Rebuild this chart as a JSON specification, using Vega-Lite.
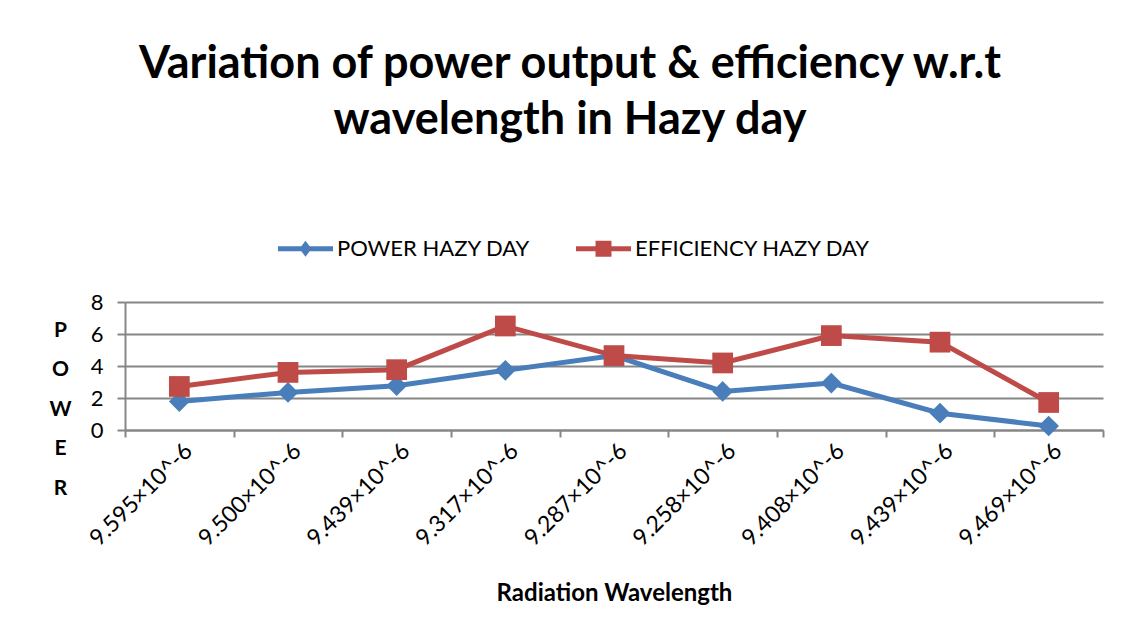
{
  "$schema": "https://vega.github.io/schema/vega-lite/v6.json",
  "width": 978,
  "height": 128,
  "autosize": {"type": "none"},
  "padding": {"left": 125, "top": 302, "right": 20, "bottom": 205},
  "background": "white",
  "config": {"view": {"stroke": null}, "font": "Lato"},
  "title": {
    "text": ["Variation of power output & efficiency w.r.t", "wavelength in Hazy  day"],
    "font": "Lato",
    "fontSize": 45,
    "fontWeight": "bold",
    "color": "black",
    "anchor": "middle",
    "dx": -44,
    "lineHeight": 56,
    "offset": 78
  },
  "data": {
    "values": [
      {"idx": 0, "series": "POWER HAZY DAY", "value": 1.78},
      {"idx": 1, "series": "POWER HAZY DAY", "value": 2.35},
      {"idx": 2, "series": "POWER HAZY DAY", "value": 2.77},
      {"idx": 3, "series": "POWER HAZY DAY", "value": 3.73},
      {"idx": 4, "series": "POWER HAZY DAY", "value": 4.65},
      {"idx": 5, "series": "POWER HAZY DAY", "value": 2.41},
      {"idx": 6, "series": "POWER HAZY DAY", "value": 2.93},
      {"idx": 7, "series": "POWER HAZY DAY", "value": 1.05},
      {"idx": 8, "series": "POWER HAZY DAY", "value": 0.25},
      {"idx": 0, "series": "EFFICIENCY HAZY DAY", "value": 2.72},
      {"idx": 1, "series": "EFFICIENCY HAZY DAY", "value": 3.6},
      {"idx": 2, "series": "EFFICIENCY HAZY DAY", "value": 3.77},
      {"idx": 3, "series": "EFFICIENCY HAZY DAY", "value": 6.5},
      {"idx": 4, "series": "EFFICIENCY HAZY DAY", "value": 4.65},
      {"idx": 5, "series": "EFFICIENCY HAZY DAY", "value": 4.19},
      {"idx": 6, "series": "EFFICIENCY HAZY DAY", "value": 5.9},
      {"idx": 7, "series": "EFFICIENCY HAZY DAY", "value": 5.49},
      {"idx": 8, "series": "EFFICIENCY HAZY DAY", "value": 1.72}
    ]
  },
  "encoding": {
    "x": {
      "field": "idx",
      "type": "ordinal",
      "scale": {"type": "band", "paddingInner": 0, "paddingOuter": 0},
      "axis": {
        "labelExpr": "['9.595×10^-6','9.500×10^-6','9.439×10^-6','9.317×10^-6','9.287×10^-6','9.258×10^-6','9.408×10^-6','9.439×10^-6','9.469×10^-6'][datum.value]",
        "labelAngle": -45,
        "labelAlign": "right",
        "labelBaseline": "middle",
        "labelFontSize": 23,
        "labelColor": "black",
        "labelFont": "Lato",
        "labelLimit": 300,
        "labelPadding": 10,
        "labelOffset": 9,
        "tickBand": "extent",
        "tickSize": 7,
        "tickColor": "#868686",
        "tickWidth": 2,
        "domainColor": "#868686",
        "domainWidth": 2,
        "grid": false,
        "title": "Radiation Wavelength",
        "titleFontSize": 24,
        "titleFont": "Lato",
        "titleFontWeight": "bold",
        "titleColor": "black",
        "titlePadding": 31
      }
    },
    "y": {
      "field": "value",
      "type": "quantitative",
      "scale": {"domain": [0, 8]},
      "axis": {
        "values": [0, 2, 4, 6, 8],
        "labelFontSize": 22,
        "labelColor": "black",
        "labelFont": "Lato",
        "labelPadding": 14,
        "tickSize": 8,
        "tickColor": "#868686",
        "tickWidth": 2,
        "domainColor": "#868686",
        "domainWidth": 2,
        "gridColor": "#868686",
        "gridWidth": 2,
        "title": ["P", "O", "W", "E", "R"],
        "titleAngle": 0,
        "titleAlign": "center",
        "titleBaseline": "top",
        "titleFontSize": 21,
        "titleFont": "Lato",
        "titleFontWeight": "bold",
        "titleColor": "black",
        "titleLineHeight": 39.5,
        "titleX": -65,
        "titleY": 17
      }
    },
    "color": {
      "field": "series",
      "type": "nominal",
      "sort": ["POWER HAZY DAY", "EFFICIENCY HAZY DAY"],
      "scale": {"domain": ["POWER HAZY DAY", "EFFICIENCY HAZY DAY"], "range": ["#4A7EBB", "#BE4B48"]},
      "legend": {
        "title": null,
        "orient": "none",
        "legendX": 153,
        "legendY": -81,
        "direction": "horizontal",
        "labelFontSize": 22,
        "labelFont": "Lato",
        "labelColor": "black",
        "labelLimit": 400,
        "symbolSize": 3025,
        "labelOffset": 4,
        "columnPadding": 45,
        "encode": {
          "symbols": {
            "update": {
              "shape": {"signal": "datum.value == 'POWER HAZY DAY' ? 'M-1,-0.09H1V0.09H-1Z M0,-0.29L0.22,0L0,0.29L-0.22,0Z' : 'M-1,-0.09H1V0.09H-1Z M-0.29,-0.29H0.29V0.29H-0.29Z'"},
              "fill": {"signal": "scale('color', datum.value)"},
              "fillOpacity": {"value": 1},
              "strokeWidth": {"value": 0}
            }
          }
        }
      }
    }
  },
  "layer": [
    {
      "mark": {"type": "line", "strokeWidth": 5}
    },
    {
      "transform": [{"filter": "datum.series == 'POWER HAZY DAY'"}],
      "mark": {"type": "point", "filled": true, "opacity": 1, "shape": "diamond", "size": 430}
    },
    {
      "transform": [{"filter": "datum.series == 'EFFICIENCY HAZY DAY'"}],
      "mark": {"type": "point", "filled": true, "opacity": 1, "shape": "square", "size": 430}
    }
  ]
}
